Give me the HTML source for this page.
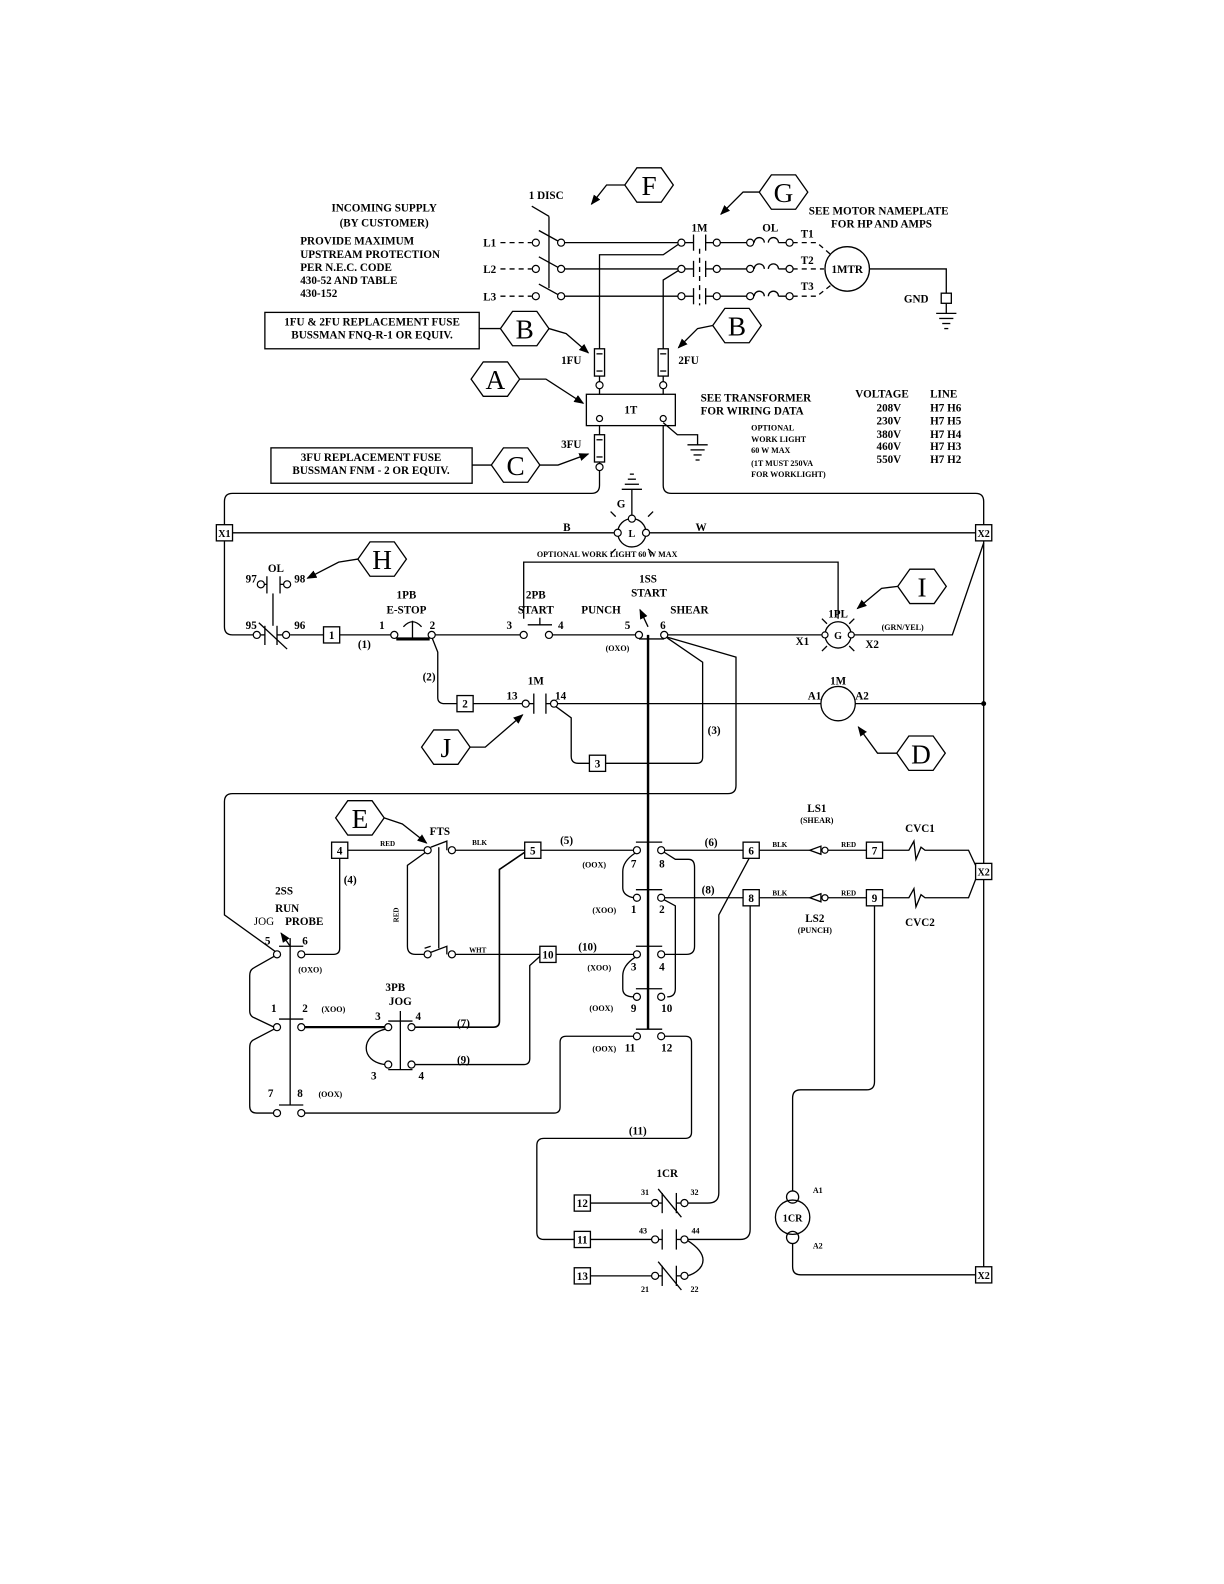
<!DOCTYPE html>
<html><head><meta charset="utf-8"><style>
html,body{margin:0;padding:0;background:#fff;}
svg{display:block;}
text{font-family:"Liberation Serif",serif;font-weight:bold;fill:#000;}
</style></head><body>
<svg width="1224" height="1584" viewBox="0 0 1210.7 1566.8" xmlns="http://www.w3.org/2000/svg">
<defs><marker id="ar" markerWidth="10" markerHeight="8" refX="9" refY="4" orient="auto" markerUnits="userSpaceOnUse"><path d="M0,0 L10,4 L0,8 Z" fill="#000"/></marker></defs>
<rect x="0" y="0" width="1211" height="1567" fill="#fff"/>
<g fill="none" stroke="#000" stroke-width="1.3">
<polygon points="618,183 630,166 654,166 666,183 654,200 630,200"/>
<polygon points="751,190 763,173 787,173 799,190 787,207 763,207"/>
<polygon points="495,325 507,308 531,308 543,325 531,342 507,342"/>
<polygon points="705,322 717,305 741,305 753,322 741,339 717,339"/>
<polygon points="466,375 478,358 502,358 514,375 502,392 478,392"/>
<polygon points="486,460 498,443 522,443 534,460 522,477 498,477"/>
<polygon points="354,553 366,536 390,536 402,553 390,570 366,570"/>
<polygon points="888,580 900,563 924,563 936,580 924,597 900,597"/>
<polygon points="417,739 429,722 453,722 465,739 453,756 429,756"/>
<polygon points="887,745 899,728 923,728 935,745 923,762 899,762"/>
<polygon points="332,809 344,792 368,792 380,809 368,826 344,826"/>
<polyline points="618,183 600,183 585,202" marker-end="url(#ar)"/>
<polyline points="751,190 735,190 713,212" marker-end="url(#ar)"/>
<polyline points="543,325 560,330 582,349" marker-end="url(#ar)"/>
<polyline points="705,322 690,325 671,344" marker-end="url(#ar)"/>
<polyline points="514,375 540,375 577,399" marker-end="url(#ar)"/>
<polyline points="534,460 552,460 582,449" marker-end="url(#ar)"/>
<polyline points="354,553 335,556 304,572" marker-end="url(#ar)"/>
<polyline points="888,580 872,582 848,602" marker-end="url(#ar)"/>
<polyline points="465,739 480,739 517,707" marker-end="url(#ar)"/>
<polyline points="887,745 868,745 849,719" marker-end="url(#ar)"/>
<polyline points="380,809 398,815 422,834" marker-end="url(#ar)"/>
<rect x="262" y="309" width="212" height="36"/>
<line x1="474" y1="325" x2="495" y2="325"/>
<rect x="268" y="443" width="199" height="35"/>
<line x1="467" y1="460" x2="486" y2="460"/>

<g stroke-dasharray="5,4"><line x1="495" y1="240" x2="526" y2="240"/><line x1="495" y1="266" x2="526" y2="266"/><line x1="495" y1="293" x2="526" y2="293"/></g>
<line x1="526" y1="204" x2="543" y2="214"/><line x1="543" y1="214" x2="543" y2="285"/>
<line x1="533" y1="228" x2="553" y2="239"/><line x1="533" y1="254" x2="553" y2="265"/><line x1="533" y1="281" x2="553" y2="292"/>
<line x1="558" y1="240" x2="671" y2="240"/><line x1="558" y1="266" x2="671" y2="266"/><line x1="558" y1="293" x2="671" y2="293"/>
<line x1="686" y1="232" x2="686" y2="248"/><line x1="698" y1="232" x2="698" y2="248"/>
<line x1="686" y1="258" x2="686" y2="274"/><line x1="698" y1="258" x2="698" y2="274"/>
<line x1="686" y1="285" x2="686" y2="301"/><line x1="698" y1="285" x2="698" y2="301"/>
<line x1="677" y1="240" x2="686" y2="240"/><line x1="698" y1="240" x2="706" y2="240"/>
<line x1="677" y1="266" x2="686" y2="266"/><line x1="698" y1="266" x2="706" y2="266"/>
<line x1="677" y1="293" x2="686" y2="293"/><line x1="698" y1="293" x2="706" y2="293"/>
<line x1="692" y1="246" x2="692" y2="302" stroke-dasharray="5,4"/>
<line x1="712" y1="240" x2="739" y2="240"/><line x1="712" y1="266" x2="739" y2="266"/><line x1="712" y1="293" x2="739" y2="293"/>
<path d="M746,240 a5,5 0 0 1 10,0 M760,240 a5,5 0 0 1 10,0 M770,240 L778,240"/>
<path d="M746,266 a5,5 0 0 1 10,0 M760,266 a5,5 0 0 1 10,0 M770,266 L778,266"/>
<path d="M746,293 a5,5 0 0 1 10,0 M760,293 a5,5 0 0 1 10,0 M770,293 L778,293"/>
<g stroke-dasharray="5,4"><path d="M784,240 L808,240 L822,252"/><line x1="784" y1="266" x2="815" y2="266"/><path d="M784,293 L808,293 L822,282"/></g>
<circle cx="838" cy="266" r="22"/>
<polyline points="860,266 936,266 936,290"/>
<rect x="931" y="290" width="10" height="10"/>
<line x1="936" y1="300" x2="936" y2="310"/>
<line x1="926" y1="310" x2="946" y2="310"/><line x1="929" y1="315" x2="943" y2="315"/><line x1="932" y1="320" x2="940" y2="320"/><line x1="934" y1="325" x2="938" y2="325"/>
<polyline points="593,345 593,252 656,252 672,241"/>
<polyline points="656,345 656,277 672,267"/>
<rect x="588" y="345" width="10" height="27"/><line x1="590" y1="350" x2="596" y2="350"/><line x1="590" y1="367" x2="596" y2="367"/><line x1="593" y1="372" x2="593" y2="378"/>
<rect x="651" y="345" width="10" height="27"/><line x1="653" y1="350" x2="659" y2="350"/><line x1="653" y1="367" x2="659" y2="367"/><line x1="656" y1="372" x2="656" y2="378"/>
<line x1="593" y1="384" x2="593" y2="390"/><line x1="656" y1="384" x2="656" y2="390"/>
<rect x="580" y="390" width="88" height="31"/>
<polyline points="656,418 670,430 690,430 690,440"/>
<line x1="680" y1="440" x2="700" y2="440"/><line x1="683" y1="445" x2="697" y2="445"/><line x1="686" y1="450" x2="694" y2="450"/><line x1="688" y1="455" x2="692" y2="455"/>
<line x1="593" y1="421" x2="593" y2="430"/>
<rect x="588" y="430" width="10" height="27"/><line x1="590" y1="435" x2="596" y2="435"/><line x1="590" y1="452" x2="596" y2="452"/>
<path d="M593,457 L593,480 Q593,488 585,488 L230,488 Q222,488 222,496 L222,519"/>
<path d="M656,421 L656,480 Q656,488 664,488 L965,488 Q973,488 973,496 L973,519"/>
<rect x="214" y="519" width="16" height="16"/>
<rect x="965" y="519" width="16" height="16"/>
<line x1="230" y1="527" x2="608" y2="527"/><line x1="642" y1="527" x2="965" y2="527"/>
<circle cx="625" cy="527" r="14"/>
<line x1="625" y1="513" x2="625" y2="484"/>
<line x1="615" y1="484" x2="635" y2="484"/><line x1="618" y1="479" x2="632" y2="479"/><line x1="621" y1="474" x2="629" y2="474"/><line x1="623" y1="469" x2="627" y2="469"/>
<line x1="609" y1="511" x2="604" y2="506"/><line x1="641" y1="511" x2="646" y2="506"/><line x1="609" y1="543" x2="604" y2="548"/><line x1="641" y1="543" x2="646" y2="548"/>
<polyline points="518,612 518,556 829,556 829,612"/>
<path d="M222,535 L222,620 Q222,628 230,628 L251,628"/>
<line x1="262" y1="619" x2="262" y2="638"/><line x1="274" y1="619" x2="274" y2="638"/><line x1="256" y1="616" x2="284" y2="642"/>
<line x1="258" y1="628" x2="262" y2="628"/><line x1="274" y1="628" x2="280" y2="628"/>
<line x1="264" y1="570" x2="264" y2="587"/><line x1="277" y1="570" x2="277" y2="587"/>
<line x1="261" y1="578" x2="264" y2="578"/><line x1="277" y1="578" x2="281" y2="578"/>
<line x1="270" y1="587" x2="270" y2="619"/>
<line x1="287" y1="628" x2="320" y2="628"/>
<rect x="320" y="620" width="16" height="16"/>
<line x1="336" y1="628" x2="387" y2="628"/>
<line x1="392" y1="632" x2="425" y2="632" stroke-width="3"/>
<line x1="408" y1="632" x2="408" y2="614"/><path d="M399,620 Q408,610 417,620"/>
<line x1="430" y1="628" x2="515" y2="628"/>
<line x1="522" y1="618" x2="546" y2="618"/><line x1="534" y1="618" x2="534" y2="611"/>
<line x1="547" y1="628" x2="629" y2="628"/>
<line x1="632" y1="632" x2="657" y2="632"/>
<line x1="660" y1="628" x2="815" y2="628"/>
<circle cx="829" cy="628" r="13"/>
<line x1="818" y1="617" x2="813" y2="612"/><line x1="840" y1="617" x2="845" y2="612"/><line x1="818" y1="639" x2="813" y2="644"/><line x1="840" y1="639" x2="845" y2="644"/>
<polyline points="842,628 942,628 973,537"/>
<line x1="641" y1="620" x2="633" y2="603" marker-end="url(#ar)"/>
<line x1="641" y1="628" x2="641" y2="1018" stroke-width="2.4"/>
<path d="M427,630 L433,645 L433,690 Q433,696 440,696 L452,696"/>
<rect x="452" y="688" width="16" height="16"/>
<line x1="468" y1="696" x2="517" y2="696"/>
<line x1="528" y1="686" x2="528" y2="706"/><line x1="540" y1="686" x2="540" y2="706"/>
<line x1="523" y1="696" x2="528" y2="696"/><line x1="540" y1="696" x2="545" y2="696"/>
<line x1="551" y1="696" x2="812" y2="696"/>
<circle cx="829" cy="696" r="17"/>
<line x1="846" y1="696" x2="973" y2="696"/>
<circle cx="973" cy="696" r="1.8" fill="#000"/>
<path d="M550,699 L565,710 L565,748 Q565,755 572,755 L583,755"/>
<rect x="583" y="747" width="16" height="16"/>
<path d="M599,755 L689,755 Q695,755 695,749 L695,655 L660,631"/>
<path d="M659,630 L728,650 L728,777 Q728,785 720,785 L230,785 Q222,785 222,793 L222,905 L272,941"/>
<line x1="973" y1="535" x2="973" y2="854"/>
<line x1="973" y1="870" x2="973" y2="1253"/>
<rect x="328" y="833" width="16" height="16"/>
<line x1="344" y1="841" x2="420" y2="841"/>
<path d="M426,838 L442,832 L442,841"/>
<line x1="434" y1="838" x2="434" y2="938"/>
<line x1="450" y1="841" x2="519" y2="841"/>
<rect x="519" y="833" width="16" height="16"/>
<line x1="535" y1="841" x2="627" y2="841"/>
<path d="M421,843 L403,856 L403,936 Q403,944 411,944 L420,944"/>
<path d="M426,942 L442,936 L442,944"/>
<line x1="426" y1="936" x2="420" y2="938"/>
<line x1="450" y1="944" x2="534" y2="944"/>
<rect x="534" y="936" width="16" height="16"/>
<line x1="550" y1="944" x2="627" y2="944"/>
<line x1="629" y1="833" x2="655" y2="833"/><line x1="629" y1="880" x2="655" y2="880"/><line x1="629" y1="936" x2="655" y2="936"/><line x1="629" y1="978" x2="655" y2="978"/><line x1="629" y1="1018" x2="655" y2="1018"/>
<path d="M628,844 Q616,852 616,862 L616,878 Q616,886 627,888"/>
<path d="M628,947 Q616,955 616,965 L616,978 Q616,986 627,986"/>
<path d="M657,843 L668,850 L681,850 Q687,850 687,858 L687,936 Q687,944 679,944 L657,944"/>
<path d="M657,890 L668,896 L668,978 Q668,986 660,986"/>
<line x1="657" y1="841" x2="735" y2="841"/>
<line x1="657" y1="888" x2="735" y2="888"/>
<rect x="735" y="833" width="16" height="16"/>
<rect x="735" y="880" width="16" height="16"/>
<line x1="751" y1="841" x2="801" y2="841"/><path d="M801,841 L812,837 L812,845 Z"/><line x1="819" y1="841" x2="857" y2="841"/>
<line x1="751" y1="888" x2="801" y2="888"/><path d="M801,888 L812,884 L812,892 Z"/><line x1="819" y1="888" x2="857" y2="888"/>
<rect x="857" y="833" width="16" height="16"/>
<rect x="857" y="880" width="16" height="16"/>
<path d="M873,841 L899,841 L904,832 L906,850 L911,838 L915,841 L958,841 L965,856"/>
<path d="M873,888 L899,888 L904,879 L906,897 L911,885 L915,888 L958,888 L965,870"/>
<rect x="965" y="854" width="16" height="16"/>
<path d="M657,1025 L678,1025 Q684,1025 684,1031 L684,1120 Q684,1126 678,1126 L538,1126 Q531,1126 531,1133 L531,1219 Q531,1226 538,1226 L568,1226"/>
<line x1="276" y1="936" x2="300" y2="936"/><line x1="276" y1="1008" x2="300" y2="1008"/><line x1="276" y1="1093" x2="300" y2="1093"/>
<line x1="287" y1="928" x2="287" y2="1093"/>
<line x1="287" y1="936" x2="278" y2="923" marker-end="url(#ar)"/>
<path d="M271,946 L250,958 Q247,960 247,965 L247,1000 Q247,1004 250,1006 L271,1016"/>
<path d="M271,1018 L250,1029 Q247,1031 247,1036 L247,1094 Q247,1101 254,1101 L271,1101"/>
<path d="M301,944 L330,944 Q336,944 336,938 L336,849"/>
<line x1="301" y1="1016" x2="381" y2="1016" stroke-width="2.2"/>
<line x1="384" y1="1010" x2="408" y2="1010"/><line x1="384" y1="1058" x2="408" y2="1058"/>
<line x1="396" y1="1000" x2="396" y2="1058"/>
<path d="M381,1018 C356,1024 356,1050 381,1053"/>
<path d="M410,1016 L488,1016 Q494,1016 494,1010 L494,860 L519,843" stroke-width="1.6"/>
<path d="M410,1053 L518,1053 Q524,1053 524,1047 L524,955 L534,946"/>
<path d="M301,1101 L548,1101 Q554,1101 554,1095 L554,1031 Q554,1025 560,1025 L627,1025"/>
<path d="M711,1180 L711,905 L741,849"/>
<path d="M742,896 L742,1216 Q742,1226 732,1226 L680,1226"/>
<path d="M711,1180 Q711,1190 700,1190 L680,1190"/>
<rect x="568" y="1182" width="16" height="16"/><rect x="568" y="1218" width="16" height="16"/><rect x="568" y="1254" width="16" height="16"/>
<line x1="584" y1="1190" x2="645" y2="1190"/><line x1="584" y1="1226" x2="645" y2="1226"/><line x1="584" y1="1262" x2="645" y2="1262"/>
<line x1="655" y1="1180" x2="655" y2="1200"/><line x1="669" y1="1180" x2="669" y2="1200"/><line x1="651" y1="1176" x2="674" y2="1204"/>
<line x1="655" y1="1216" x2="655" y2="1236"/><line x1="669" y1="1216" x2="669" y2="1236"/>
<line x1="655" y1="1252" x2="655" y2="1272"/><line x1="669" y1="1252" x2="669" y2="1272"/><line x1="651" y1="1248" x2="674" y2="1276"/>
<line x1="651" y1="1190" x2="655" y2="1190"/><line x1="669" y1="1190" x2="674" y2="1190"/>
<line x1="651" y1="1226" x2="655" y2="1226"/><line x1="669" y1="1226" x2="674" y2="1226"/>
<line x1="651" y1="1262" x2="655" y2="1262"/><line x1="669" y1="1262" x2="674" y2="1262"/>
<path d="M680,1227 Q700,1240 694,1252 Q690,1259 680,1262"/>
<path d="M865,896 L865,1070 Q865,1078 857,1078 L792,1078 Q784,1078 784,1086 L784,1178"/>
<circle cx="784" cy="1184" r="6"/><circle cx="784" cy="1204" r="17"/><circle cx="784" cy="1224" r="6"/>
<path d="M784,1230 L784,1253 Q784,1261 792,1261 L965,1261"/>
<rect x="965" y="1253" width="16" height="16"/>
</g>
<g fill="#fff" stroke="#000" stroke-width="1.2">
<circle cx="530" cy="240" r="3.5"/><circle cx="530" cy="266" r="3.5"/><circle cx="530" cy="293" r="3.5"/>
<circle cx="555" cy="240" r="3.5"/><circle cx="555" cy="266" r="3.5"/><circle cx="555" cy="293" r="3.5"/>
<circle cx="674" cy="240" r="3.5"/><circle cx="674" cy="266" r="3.5"/><circle cx="674" cy="293" r="3.5"/>
<circle cx="709" cy="240" r="3.5"/><circle cx="709" cy="266" r="3.5"/><circle cx="709" cy="293" r="3.5"/>
<circle cx="742" cy="240" r="3.5"/><circle cx="742" cy="266" r="3.5"/><circle cx="742" cy="293" r="3.5"/>
<circle cx="781" cy="240" r="3.5"/><circle cx="781" cy="266" r="3.5"/><circle cx="781" cy="293" r="3.5"/>
<circle cx="593" cy="381" r="3.5"/><circle cx="656" cy="381" r="3.5"/><circle cx="593" cy="414" r="3"/><circle cx="656" cy="414" r="3"/>
<circle cx="593" cy="462" r="3.5"/>
<circle cx="611" cy="527" r="3.5"/><circle cx="639" cy="527" r="3.5"/><circle cx="625" cy="513" r="3.5"/>
<circle cx="258" cy="578" r="3.5"/><circle cx="284" cy="578" r="3.5"/>
<circle cx="254" cy="628" r="3.5"/><circle cx="283" cy="628" r="3.5"/>
<circle cx="390" cy="628" r="3.5"/><circle cx="427" cy="628" r="3.5"/>
<circle cx="518" cy="628" r="3.5"/><circle cx="543" cy="628" r="3.5"/>
<circle cx="632" cy="628" r="3.5"/><circle cx="657" cy="628" r="3.5"/>
<circle cx="520" cy="696" r="3.5"/><circle cx="548" cy="696" r="3.5"/>
<circle cx="816" cy="628" r="3"/><circle cx="842" cy="628" r="3"/>
<circle cx="423" cy="841" r="3.5"/><circle cx="447" cy="841" r="3.5"/>
<circle cx="423" cy="944" r="3.5"/><circle cx="447" cy="944" r="3.5"/>
<circle cx="630" cy="841" r="3.5"/><circle cx="654" cy="841" r="3.5"/>
<circle cx="630" cy="888" r="3.5"/><circle cx="654" cy="888" r="3.5"/>
<circle cx="630" cy="944" r="3.5"/><circle cx="654" cy="944" r="3.5"/>
<circle cx="630" cy="986" r="3.5"/><circle cx="654" cy="986" r="3.5"/>
<circle cx="630" cy="1025" r="3.5"/><circle cx="654" cy="1025" r="3.5"/>
<circle cx="816" cy="841" r="3"/><circle cx="816" cy="888" r="3"/>
<circle cx="274" cy="944" r="3.5"/><circle cx="298" cy="944" r="3.5"/>
<circle cx="274" cy="1016" r="3.5"/><circle cx="298" cy="1016" r="3.5"/>
<circle cx="274" cy="1101" r="3.5"/><circle cx="298" cy="1101" r="3.5"/>
<circle cx="384" cy="1016" r="3.5"/><circle cx="407" cy="1016" r="3.5"/>
<circle cx="384" cy="1053" r="3.5"/><circle cx="407" cy="1053" r="3.5"/>
<circle cx="648" cy="1190" r="3.5"/><circle cx="677" cy="1190" r="3.5"/>
<circle cx="648" cy="1226" r="3.5"/><circle cx="677" cy="1226" r="3.5"/>
<circle cx="648" cy="1262" r="3.5"/><circle cx="677" cy="1262" r="3.5"/>
</g>
<g font-size="27" text-anchor="middle">
<text x="642" y="193" style="font-weight:normal">F</text>
<text x="775" y="200" style="font-weight:normal">G</text>
<text x="519" y="335" style="font-weight:normal">B</text>
<text x="729" y="332" style="font-weight:normal">B</text>
<text x="490" y="385" style="font-weight:normal">A</text>
<text x="510" y="470" style="font-weight:normal">C</text>
<text x="378" y="563" style="font-weight:normal">H</text>
<text x="912" y="590" style="font-weight:normal">I</text>
<text x="441" y="749" style="font-weight:normal">J</text>
<text x="911" y="755" style="font-weight:normal">D</text>
<text x="356" y="819" style="font-weight:normal">E</text>
</g>
<g font-size="11">
<text x="523" y="197">1 DISC</text>
<text x="380" y="209" text-anchor="middle">INCOMING SUPPLY</text>
<text x="380" y="224" text-anchor="middle">(BY CUSTOMER)</text>
<text x="297" y="242">PROVIDE MAXIMUM</text>
<text x="297" y="255">UPSTREAM PROTECTION</text>
<text x="297" y="268">PER N.E.C. CODE</text>
<text x="297" y="281">430-52 AND TABLE</text>
<text x="297" y="294">430-152</text>
<text x="478" y="244">L1</text><text x="478" y="270">L2</text><text x="478" y="297">L3</text>
<text x="684" y="229">1M</text><text x="754" y="229">OL</text>
<text x="792" y="235">T1</text><text x="792" y="261">T2</text><text x="792" y="287">T3</text>
<text x="838" y="270" text-anchor="middle">1MTR</text>
<text x="800" y="212">SEE MOTOR NAMEPLATE</text>
<text x="822" y="225">FOR HP AND AMPS</text>
<text x="894" y="299">GND</text>
<text x="368" y="322" text-anchor="middle">1FU &amp; 2FU REPLACEMENT FUSE</text>
<text x="368" y="335" text-anchor="middle">BUSSMAN FNQ-R-1 OR EQUIV.</text>
<text x="555" y="360">1FU</text><text x="671" y="360">2FU</text>
<text x="624" y="409" text-anchor="middle">1T</text>
<text x="693" y="397">SEE TRANSFORMER</text>
<text x="693" y="410">FOR WIRING DATA</text>
<text x="846" y="393">VOLTAGE</text><text x="920" y="393">LINE</text>
<text x="867" y="407">208V</text><text x="920" y="407">H7 H6</text>
<text x="867" y="420">230V</text><text x="920" y="420">H7 H5</text>
<text x="867" y="433">380V</text><text x="920" y="433">H7 H4</text>
<text x="867" y="445">460V</text><text x="920" y="445">H7 H3</text>
<text x="867" y="458">550V</text><text x="920" y="458">H7 H2</text>
<text x="555" y="443">3FU</text>
<text x="367" y="456" text-anchor="middle">3FU REPLACEMENT FUSE</text>
<text x="367" y="469" text-anchor="middle">BUSSMAN FNM - 2 OR EQUIV.</text>
<text x="610" y="502">G</text>
<text x="557" y="525">B</text><text x="688" y="525">W</text>
<text x="625" y="531" text-anchor="middle" font-size="10">L</text>
<text x="265" y="566">OL</text>
<text x="243" y="576">97</text><text x="291" y="576">98</text>
<text x="243" y="622">95</text><text x="291" y="622">96</text>
<text x="328" y="632" text-anchor="middle">1</text>
<text x="354" y="641">(1)</text>
<text x="402" y="592" text-anchor="middle">1PB</text>
<text x="402" y="607" text-anchor="middle">E-STOP</text>
<text x="375" y="622">1</text><text x="425" y="622">2</text>
<text x="530" y="592" text-anchor="middle">2PB</text>
<text x="530" y="607" text-anchor="middle">START</text>
<text x="501" y="622">3</text><text x="552" y="622">4</text>
<text x="641" y="576" text-anchor="middle">1SS</text>
<text x="642" y="590" text-anchor="middle">START</text>
<text x="575" y="607">PUNCH</text><text x="663" y="607">SHEAR</text>
<text x="618" y="622">5</text><text x="653" y="622">6</text>
<text x="599" y="644" font-size="8">(OXO)</text>
<text x="829" y="611" text-anchor="middle">1PL</text>
<text x="829" y="632" text-anchor="middle" font-size="10">G</text>
<text x="787" y="638">X1</text><text x="856" y="641">X2</text>
<text x="872" y="623" font-size="8">(GRN/YEL)</text>
<text x="418" y="673">(2)</text>
<text x="460" y="700" text-anchor="middle">2</text>
<text x="530" y="677" text-anchor="middle">1M</text>
<text x="501" y="692">13</text><text x="549" y="692">14</text>
<text x="829" y="677" text-anchor="middle">1M</text>
<text x="799" y="692">A1</text><text x="846" y="692">A2</text>
<text x="591" y="759" text-anchor="middle">3</text>
<text x="700" y="726">(3)</text>
<text x="222" y="531" text-anchor="middle" font-size="10">X1</text>
<text x="973" y="531" text-anchor="middle" font-size="10">X2</text>
<text x="973" y="866" text-anchor="middle" font-size="10">X2</text>
<text x="973" y="1265" text-anchor="middle" font-size="10">X2</text>
<text x="336" y="845" text-anchor="middle">4</text>
<text x="527" y="845" text-anchor="middle">5</text>
<text x="542" y="948" text-anchor="middle">10</text>
<text x="743" y="845" text-anchor="middle">6</text>
<text x="743" y="892" text-anchor="middle">8</text>
<text x="865" y="845" text-anchor="middle">7</text>
<text x="865" y="892" text-anchor="middle">9</text>
<text x="576" y="1194" text-anchor="middle">12</text>
<text x="576" y="1230" text-anchor="middle">11</text>
<text x="576" y="1266" text-anchor="middle">13</text>
<text x="425" y="826">FTS</text>
<text x="376" y="837" font-size="7">RED</text><text x="467" y="836" font-size="7">BLK</text>
<text x="464" y="942" font-size="7">WHT</text>
<text x="394" y="905" font-size="7" transform="rotate(-90 394 905)" text-anchor="middle">RED</text>
<text x="554" y="835">(5)</text>
<text x="576" y="858" font-size="8">(OOX)</text><text x="624" y="858">7</text><text x="652" y="858">8</text>
<text x="697" y="837">(6)</text>
<text x="764" y="838" font-size="7">BLK</text><text x="832" y="838" font-size="7">RED</text>
<text x="808" y="803" text-anchor="middle">LS1</text>
<text x="808" y="814" text-anchor="middle" font-size="8">(SHEAR)</text>
<text x="910" y="823" text-anchor="middle">CVC1</text>
<text x="694" y="884">(8)</text>
<text x="586" y="903" font-size="8">(XOO)</text><text x="624" y="903">1</text><text x="652" y="903">2</text>
<text x="764" y="886" font-size="7">BLK</text><text x="832" y="886" font-size="7">RED</text>
<text x="806" y="912" text-anchor="middle">LS2</text>
<text x="806" y="923" text-anchor="middle" font-size="8">(PUNCH)</text>
<text x="910" y="916" text-anchor="middle">CVC2</text>
<text x="572" y="940">(10)</text>
<text x="581" y="960" font-size="8">(XOO)</text><text x="624" y="960">3</text><text x="652" y="960">4</text>
<text x="583" y="1000" font-size="8">(OOX)</text><text x="624" y="1001">9</text><text x="654" y="1001">10</text>
<text x="586" y="1040" font-size="8">(OOX)</text><text x="618" y="1040">11</text><text x="654" y="1040">12</text>
<text x="340" y="874">(4)</text>
<text x="281" y="885" text-anchor="middle">2SS</text>
<text x="284" y="902" text-anchor="middle">RUN</text>
<text x="251" y="915" style="font-weight:normal">JOG</text><text x="282" y="915">PROBE</text>
<text x="262" y="934">5</text><text x="299" y="934">6</text>
<text x="295" y="962" font-size="8">(OXO)</text>
<text x="268" y="1001">1</text><text x="299" y="1001">2</text>
<text x="318" y="1001" font-size="8">(XOO)</text>
<text x="391" y="980" text-anchor="middle">3PB</text>
<text x="396" y="994" text-anchor="middle">JOG</text>
<text x="371" y="1009">3</text><text x="411" y="1009">4</text>
<text x="452" y="1016">(7)</text>
<text x="452" y="1052">(9)</text>
<text x="367" y="1068">3</text><text x="414" y="1068">4</text>
<text x="265" y="1085">7</text><text x="294" y="1085">8</text>
<text x="315" y="1085" font-size="8">(OOX)</text>
<text x="622" y="1122">(11)</text>
<text x="660" y="1164" text-anchor="middle">1CR</text>
<text x="634" y="1182" font-size="8">31</text><text x="683" y="1182" font-size="8">32</text>
<text x="632" y="1220" font-size="8">43</text><text x="684" y="1220" font-size="8">44</text>
<text x="634" y="1278" font-size="8">21</text><text x="683" y="1278" font-size="8">22</text>
<text x="784" y="1208" text-anchor="middle" font-size="10">1CR</text>
<text x="804" y="1180" font-size="8">A1</text><text x="804" y="1235" font-size="8">A2</text>
</g>
<g font-size="8">
<text x="743" y="426">OPTIONAL</text>
<text x="743" y="437">WORK LIGHT</text>
<text x="743" y="448">60 W MAX</text>
<text x="743" y="461">(1T MUST 250VA</text>
<text x="743" y="472">FOR WORKLIGHT)</text>
<text x="531" y="551">OPTIONAL  WORK LIGHT  60 W MAX</text>
</g>
</svg>
</body></html>
